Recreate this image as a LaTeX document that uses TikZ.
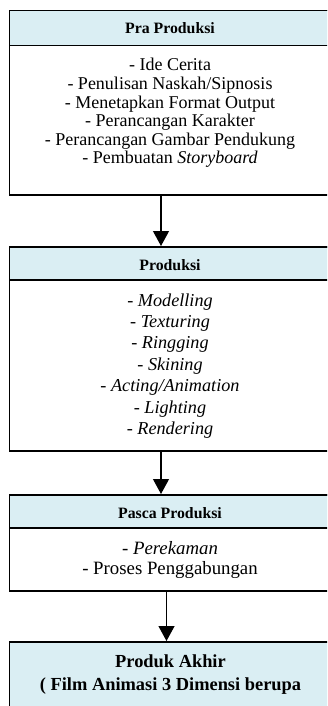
\documentclass[tikz,border=0pt]{standalone}
\usepackage{fontspec}
\setmainfont{Liberation Serif}
\usetikzlibrary{arrows.meta}
\definecolor{hdr}{HTML}{DAEEF3}
\tikzset{
  boxfr/.style={rectangle, draw=black, line width=1.5pt, fill=white, minimum width=323.5pt, inner sep=0pt, anchor=north west},
  hdrbox/.style={boxfr, fill=hdr},
  conn/.style={line width=1.2pt, -{Triangle[width=16pt,length=15pt]}},
  hdrtxt/.style={font=\fontsize{15.8}{18}\selectfont\bfseries, inner sep=0pt},
  itemtxt/.style={align=center, inner sep=0pt},
}
\begin{document}
\begin{tikzpicture}[x=1pt,y=-1pt]
\useasboundingbox (0,0) rectangle (327,706);
\clip (0,0) rectangle (327,706);
% box 1
\node[boxfr, minimum height=184pt] (b1) at (8.5,10) {};
\node[hdrbox, minimum height=35pt] (h1) at (8.5,10) {};
\node[hdrtxt] (ht1) at (170,28) {Pra Produksi};
\node[itemtxt, font=\fontsize{18}{18.6}\selectfont] (t1) at (170,113) {- Ide Cerita\\- Penulisan Naskah/Sipnosis\\- Menetapkan Format Output\\- Perancangan Karakter\\- Perancangan Gambar Pendukung\\- Pembuatan \textit{Storyboard}};
% box 2
\node[boxfr, minimum height=204pt] (b2) at (8.5,246) {};
\node[hdrbox, minimum height=33pt] (h2) at (8.5,246) {};
\node[hdrtxt] (ht2) at (170,265) {Produksi};
\node[itemtxt, font=\fontsize{18.2}{21.4}\selectfont\itshape] (t2) at (170,366) {- Modelling\\- Texturing\\- Ringging\\- Skining\\- Acting/Animation\\- Lighting\\- Rendering};
% box 3
\node[boxfr, minimum height=96pt] (b3) at (8.5,494) {};
\node[hdrbox, minimum height=33pt] (h3) at (8.5,494) {};
\node[hdrtxt] (ht3) at (170,513) {Pasca Produksi};
\node[itemtxt, font=\fontsize{18.8}{20.5}\selectfont] (t3) at (170,560) {- \textit{Perekaman}\\- Proses Penggabungan};
% box 4
\node[hdrbox, minimum height=100pt] (b4) at (8.5,641) {};
\node[itemtxt, font=\fontsize{18.4}{23}\selectfont\bfseries] (t4) at (170.5,675) {Produk Akhir\\( Film Animasi 3 Dimensi berupa};
% connectors
\coordinate (ca) at (161,0);
\coordinate (cb) at (166.5,0);
\draw[conn] (ca |- b1.south) -- (ca |- b2.north);
\draw[conn] (ca |- b2.south) -- (ca |- b3.north);
\draw[conn] (cb |- b3.south) -- (cb |- b4.north);
\end{tikzpicture}
\end{document}
